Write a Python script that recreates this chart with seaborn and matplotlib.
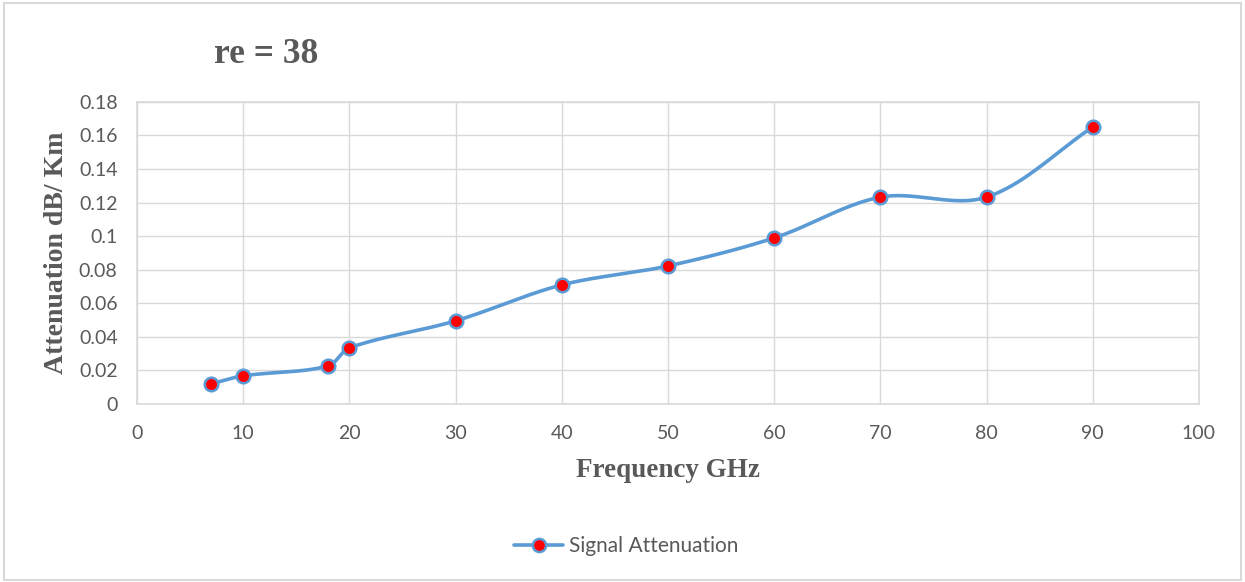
import numpy as np
import pandas as pd
import matplotlib
matplotlib.use("Agg")
import matplotlib.pyplot as plt
import seaborn as sns
from matplotlib.lines import Line2D
from matplotlib.patches import Rectangle

freq = [7, 10, 18, 20, 30, 40, 50, 60, 70, 80, 90]
atten = [0.012, 0.0167, 0.0226, 0.0334, 0.0495, 0.0709, 0.0822, 0.0989, 0.1232, 0.1232, 0.165]
x_ticks = [0, 10, 20, 30, 40, 50, 60, 70, 80, 90, 100]
y_ticks = [0, 0.02, 0.04, 0.06, 0.08, 0.1, 0.12, 0.14, 0.16, 0.18]
y_tick_labels = ["0", "0.02", "0.04", "0.06", "0.08", "0.1", "0.12", "0.14", "0.16", "0.18"]
series_name = "Signal Attenuation"
title = "re = 38"
x_label = "Frequency GHz"
y_label = "Attenuation dB/ Km"

sns.set_theme(style="white")
plt.rcParams['font.family'] = ['Lato', 'DejaVu Sans']

LINE = "#5B9BD5"
GRID = "#D9D9D9"
TXT = "#595959"

XMAX, YMAX = 100.0, 0.18
AX_W_PX, AX_H_PX = 1062.0, 302.0

# Excel-like smoothing: cubic Bezier, tangents scaled by adjacent segment lengths (screen space)
def smooth(xs, ys, n=40):
    P = np.column_stack([np.array(xs, float) / XMAX * AX_W_PX,
                         np.array(ys, float) / YMAX * AX_H_PX])
    m = len(P)

    def ctrl(i, forward):
        # control handle at point i pointing toward neighbour
        if i == 0 or i == m - 1:
            return P[i]
        prev, cur, nxt = P[i - 1], P[i], P[i + 1]
        d1 = np.linalg.norm(cur - prev); d2 = np.linalg.norm(nxt - cur)
        tang = nxt - prev
        if forward:
            return cur + tang * d2 / (d1 + d2) / 3.0
        return cur - tang * d1 / (d1 + d2) / 3.0

    out = []
    for i in range(m - 1):
        p1, p2 = P[i], P[i + 1]
        c1 = ctrl(i, True) if i > 0 else p1 + (p2 - p1) / 3.0
        c2 = ctrl(i + 1, False) if i + 1 < m - 1 else p2 - (p2 - p1) / 3.0
        t = np.linspace(0, 1, n)[:, None]
        seg = (1 - t) ** 3 * p1 + 3 * (1 - t) ** 2 * t * c1 + 3 * (1 - t) * t ** 2 * c2 + t ** 3 * p2
        out.append(seg if i == 0 else seg[1:])
    C = np.vstack(out)
    return C[:, 0] / AX_W_PX * XMAX, C[:, 1] / AX_H_PX * YMAX

cx, cy = smooth(freq, atten)
curve_df = pd.DataFrame({"x": cx, "y": cy})
pts_df = pd.DataFrame({"Frequency": freq, "Attenuation": atten})

fig = plt.figure(figsize=(12.45, 5.82), dpi=100)
ax = fig.add_axes([0.110, 0.306, 0.853, 0.519])

sns.lineplot(data=curve_df, x="x", y="y", sort=False, ax=ax, color=LINE, linewidth=2.6, estimator=None)
sns.scatterplot(data=pts_df, x="Frequency", y="Attenuation", ax=ax, s=95, color="#FF0000",
                edgecolor=LINE, linewidth=1.8, zorder=5)

ax.set_xlim(0, XMAX)
ax.set_ylim(0, YMAX)
ax.set_xticks(x_ticks)
ax.set_xticklabels([str(v) for v in x_ticks])
ax.set_yticks(y_ticks)
ax.set_yticklabels(y_tick_labels)
ax.tick_params(axis="both", labelsize=14, colors=TXT, length=0)
ax.tick_params(axis="x", pad=15)
ax.tick_params(axis="y", pad=14)
ax.grid(True, color=GRID, linewidth=1.0)
ax.set_axisbelow(True)
for s in ax.spines.values():
    s.set_color(GRID)
    s.set_linewidth(1.2)

ax.set_xlabel(x_label, family=["Liberation Serif"], fontsize=19.5, fontweight="bold", color=TXT, labelpad=12)
ax.set_ylabel(y_label, family=["Liberation Serif"], fontsize=20, fontweight="bold", color=TXT, labelpad=7)

fig.text(0.214, 0.907, title, family=["Liberation Serif"], fontsize=25.5, fontweight="bold",
         color=TXT, ha="center", va="center")

handle = Line2D([0], [0], color=LINE, linewidth=2.6, marker="o", markersize=9.5,
                markerfacecolor="#FF0000", markeredgecolor=LINE, markeredgewidth=1.8)
fig.legend([handle], [series_name], loc="center", bbox_to_anchor=(0.503, 0.062),
           frameon=False, fontsize=15, labelcolor=TXT, handlelength=2.35, handletextpad=0.25)

fig.patches.append(Rectangle((0.003, 0.004), 0.994, 0.99, transform=fig.transFigure,
                             fill=False, edgecolor=GRID, linewidth=1.5))

fig.savefig("out.png", dpi=100, facecolor="white")
